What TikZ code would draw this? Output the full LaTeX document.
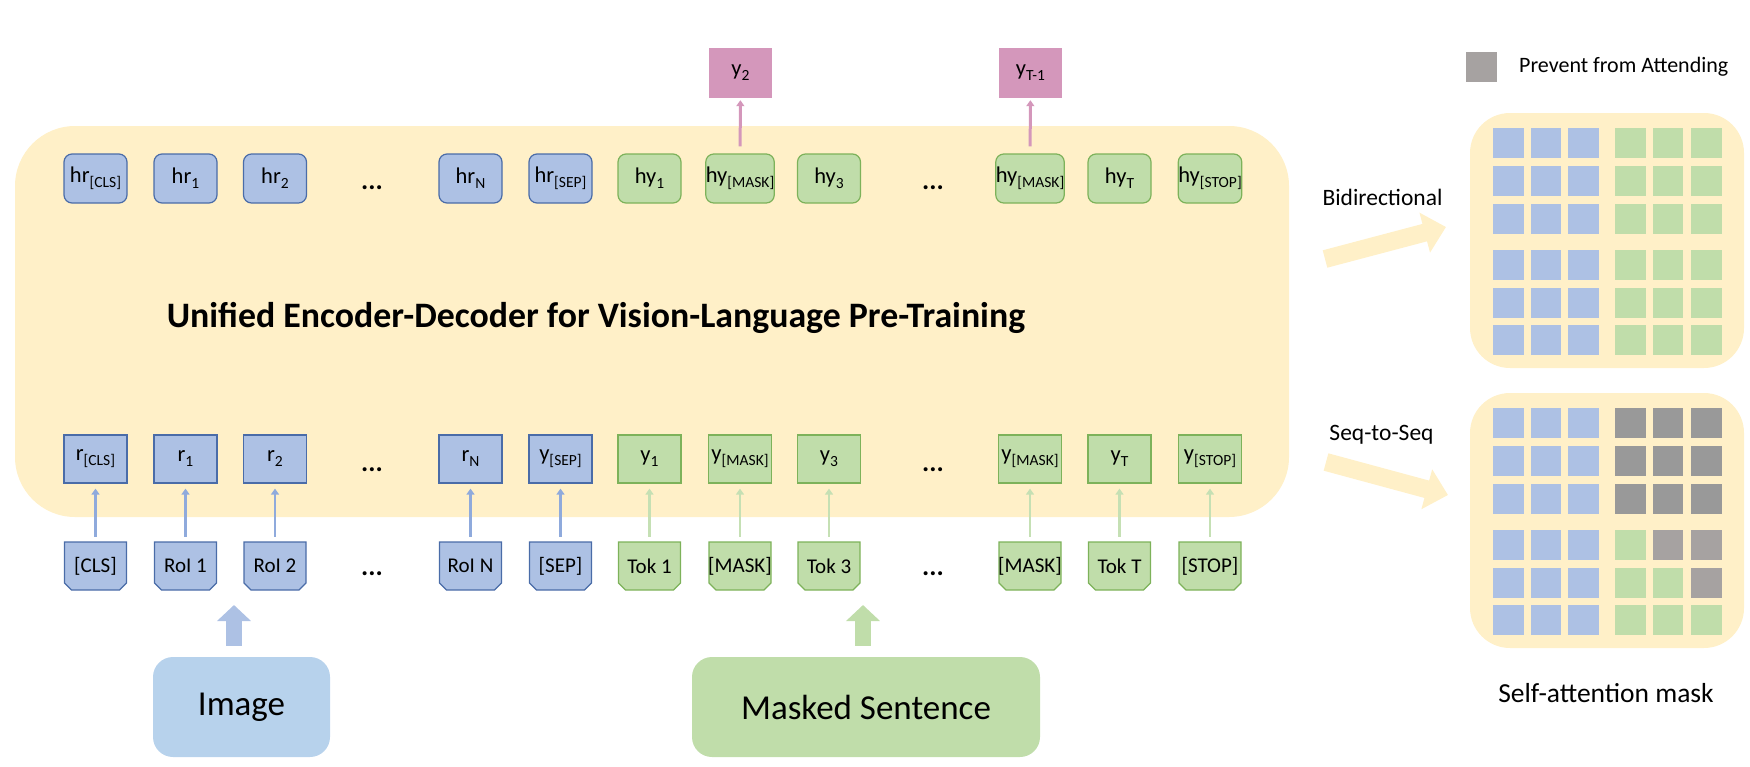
\documentclass[tikz,border=0pt]{standalone}
\usepackage{fontspec}
\setmainfont{Carlito}
\usetikzlibrary{arrows.meta}
\definecolor{bgyellow}{HTML}{FFF0C8}
\definecolor{bfill}{HTML}{ADC1E4}
\definecolor{bdraw}{HTML}{4A6CA8}
\definecolor{gfill}{HTML}{C0DDAA}
\definecolor{gdraw}{HTML}{7DB25A}
\definecolor{pfill}{HTML}{D497BB}
\definecolor{barrowc}{HTML}{8FAADC}
\definecolor{garrowc}{HTML}{C5E0B4}
\definecolor{imgfill}{HTML}{B7D2EC}
\definecolor{mgrayA}{HTML}{999999}
\definecolor{mgrayB}{HTML}{A6A2A1}
\newcommand{\mysb}[1]{\raisebox{-0.22em}{\fontsize{15.5}{15.5}\selectfont #1}}
\tikzset{
  lbl/.style={font=\fontsize{22.5}{22.5}\selectfont, inner sep=0pt, align=center},
  hbox/.style={lbl, rounded corners=8pt, minimum width=63pt, minimum height=49pt, line width=1.2pt},
  rbox/.style={lbl, minimum width=63pt, minimum height=48pt, line width=1.2pt},
  bluebox/.style={fill=bfill, draw=bdraw},
  greenbox/.style={fill=gfill, draw=gdraw},
  inlabel/.style={font=\fontsize{21}{21}\selectfont, inner sep=0pt, minimum width=62pt, minimum height=48pt},
  pbox/.style={lbl, fill=pfill, minimum width=63pt, minimum height=50pt},
  dotsn/.style={font=\fontsize{27}{27}\selectfont\bfseries, inner sep=0pt},
  thinarr/.style={line width=2.8pt, -{Triangle[length=6pt,width=8pt]}, shorten <=5pt, shorten >=5pt},
  barr/.style={thinarr, draw=barrowc},
  garr/.style={thinarr, draw=garrowc},
  parr/.style={line width=3pt, draw=pfill, -{Triangle[length=6pt,width=8pt]}, shorten <=7pt, shorten >=2pt},
  bigarr/.style={line width=16pt, -{Triangle[length=16pt,width=33pt]}},
  yarr/.style={line width=18pt, draw=bgyellow, -{Triangle[length=22pt,width=40pt]}},
  sidelbl/.style={font=\fontsize{23.5}{23.5}\selectfont, inner sep=0pt},
  leglbl/.style={font=\fontsize{22}{22}\selectfont, inner sep=0pt},
}
\newcommand{\inbox}[5]{%
  \filldraw[fill=#3, draw=#4, line width=1.2pt] ({#2-31},542) -- ({#2+31},542) -- ({#2+31},583) -- ({#2+24},590) -- ({#2-24},590) -- ({#2-31},583) -- cycle;
  \node[inlabel] (#1) at (#2,566) {#5};
}
\begin{document}
\begin{tikzpicture}[x=1pt, y=-1pt]
\useasboundingbox (0,0) rectangle (1750,766);
% main encoder-decoder area
\fill[bgyellow, rounded corners=60pt] (15,126) rectangle (1289,517);
\node[font=\fontsize{35.8}{35.8}\selectfont\bfseries, inner sep=0pt] (title) at (596,318) {Unified Encoder-Decoder for Vision-Language Pre-Training};

% top row (hidden states)
\node[hbox, bluebox] (hcls) at (95.5,178.5) {hr\mysb{[CLS]}};
\node[hbox, bluebox] (h1) at (185.5,178.5) {hr\mysb{1}};
\node[hbox, bluebox] (h2) at (275,178.5) {hr\mysb{2}};
\node[dotsn] (hd1) at (372,188) {...};
\node[hbox, bluebox] (hN) at (470.5,178.5) {hr\mysb{N}};
\node[hbox, bluebox] (hsep) at (560.5,178.5) {hr\mysb{[SEP]}};
\node[hbox, greenbox] (hy1) at (649.5,178.5) {hy\mysb{1}};
\node[hbox, greenbox] (hym) at (740,178.5) {hy\mysb{[MASK]}};
\node[hbox, greenbox] (hy3) at (829,178.5) {hy\mysb{3}};
\node[dotsn] (hd2) at (933,188) {...};
\node[hbox, greenbox] (hym2) at (1030,178.5) {hy\mysb{[MASK]}};
\node[hbox, greenbox] (hyT) at (1119.5,178.5) {hy\mysb{T}};
\node[hbox, greenbox] (hyst) at (1210,178.5) {hy\mysb{[STOP]}};

% outputs
\node[pbox] (y2) at (740.5,73) {y\mysb{2}};
\node[pbox] (yT1) at (1030.5,73) {y\mysb{T-1}};
\draw[parr] (hym) -- (y2);
\draw[parr] (hym2) -- (yT1);

% embedding row
\node[rbox, bluebox] (rcls) at (95.5,459) {r\mysb{[CLS]}};
\node[rbox, bluebox] (r1) at (185.5,459) {r\mysb{1}};
\node[rbox, bluebox] (r2) at (275,459) {r\mysb{2}};
\node[dotsn] (rd1) at (372,470) {...};
\node[rbox, bluebox] (rN) at (470.5,459) {r\mysb{N}};
\node[rbox, bluebox] (ysep) at (560.5,459) {y\mysb{[SEP]}};
\node[rbox, greenbox] (ey1) at (649.5,459) {y\mysb{1}};
\node[rbox, greenbox] (eym) at (740,459) {y\mysb{[MASK]}};
\node[rbox, greenbox] (ey3) at (829,459) {y\mysb{3}};
\node[dotsn] (rd2) at (933,470) {...};
\node[rbox, greenbox] (eym2) at (1030,459) {y\mysb{[MASK]}};
\node[rbox, greenbox] (eyT) at (1119.5,459) {y\mysb{T}};
\node[rbox, greenbox] (eyst) at (1210,459) {y\mysb{[STOP]}};

% input row
\inbox{icls}{95.5}{bfill}{bdraw}{[CLS]}
\inbox{i1}{185.5}{bfill}{bdraw}{RoI 1}
\inbox{i2}{275}{bfill}{bdraw}{RoI 2}
\node[dotsn] (id1) at (372,574) {...};
\inbox{iN}{470.5}{bfill}{bdraw}{RoI N}
\inbox{isep}{560.5}{bfill}{bdraw}{[SEP]}
\inbox{t1}{649.5}{gfill}{gdraw}{Tok 1}
\inbox{tm}{740}{gfill}{gdraw}{[MASK]}
\inbox{t3}{829}{gfill}{gdraw}{Tok 3}
\node[dotsn] (id2) at (933,574) {...};
\inbox{tm2}{1030}{gfill}{gdraw}{[MASK]}
\inbox{tT}{1119.5}{gfill}{gdraw}{Tok T}
\inbox{tst}{1210}{gfill}{gdraw}{[STOP]}

\draw[barr] (icls) -- (rcls);
\draw[barr] (i1) -- (r1);
\draw[barr] (i2) -- (r2);
\draw[barr] (iN) -- (rN);
\draw[barr] (isep) -- (ysep);
\draw[garr] (t1) -- (ey1);
\draw[garr] (tm) -- (eym);
\draw[garr] (t3) -- (ey3);
\draw[garr] (tm2) -- (eym2);
\draw[garr] (tT) -- (eyT);
\draw[garr] (tst) -- (eyst);

% sources
\node[fill=imgfill, rounded corners=20pt, minimum width=177pt, minimum height=100pt, inner sep=0pt, font=\fontsize{35}{35}\selectfont] (img) at (241.5,707) {Image};
\node[fill=gfill, rounded corners=20pt, minimum width=348pt, minimum height=100pt, inner sep=0pt, font=\fontsize{35}{35}\selectfont] (msk) at (866,707) {Masked Sentence};
\coordinate (imgtip) at (234,605);
\coordinate (msktip) at (863,605);
\draw[bigarr, draw=bfill, shorten <=11pt] (imgtip |- img.north) -- (imgtip);
\draw[bigarr, draw=gfill, shorten <=11pt] (msktip |- msk.north) -- (msktip);

% legend
\node[fill=mgrayB, minimum size=30.5pt, inner sep=0pt] (leg) at (1481.5,67) {};
\node[leglbl, anchor=west] (legt) at (1519,67) {Prevent from Attending};

% arrows to masks
\node[sidelbl] (bid) at (1382.5,197) {Bidirectional};
\node[sidelbl] (s2s) at (1381.5,435) {Seq-to-Seq};
\coordinate (bidA) at (1325,259);
\coordinate (bidB) at (1446,227);
\coordinate (s2sA) at (1326,462);
\coordinate (s2sB) at (1448,495);
\draw[yarr] (bidA) -- (bidB);
\draw[yarr] (s2sA) -- (s2sB);

% mask panels
\fill[bgyellow, rounded corners=40pt] (1470,113) rectangle (1744,368);
\fill[bgyellow, rounded corners=40pt] (1470,393) rectangle (1744,648);
\foreach \r/\y in {0/128,1/166,2/204,3/250,4/288,5/325}{
  \foreach \c/\x in {0/1493,1/1530.5,2/1568,3/1615,4/1652.5,5/1691}{
    \ifnum\c<3 \def\cc{bfill}\else\def\cc{gfill}\fi
    \fill[\cc] (\x,\y) rectangle ++(30.5,30);
  }
}
\foreach \r/\y in {0/408,1/446,2/484,3/530,4/568,5/605}{
  \foreach \c/\x in {0/1493,1/1530.5,2/1568,3/1615,4/1652.5,5/1691}{
    \pgfmathtruncatemacro\jj{\c-3}
    \pgfmathtruncatemacro\ii{\r-3}
    \ifnum\c<3 \def\cc{bfill}\else
      \ifnum\r<3 \def\cc{mgrayA}\else
        \ifnum\jj>\ii \def\cc{mgrayB}\else\def\cc{gfill}\fi
      \fi
    \fi
    \fill[\cc] (\x,\y) rectangle ++(30.5,30);
  }
}
\node[font=\fontsize{27.5}{27.5}\selectfont, inner sep=0pt] (sam) at (1606,693) {Self-attention mask};
\end{tikzpicture}
\end{document}
